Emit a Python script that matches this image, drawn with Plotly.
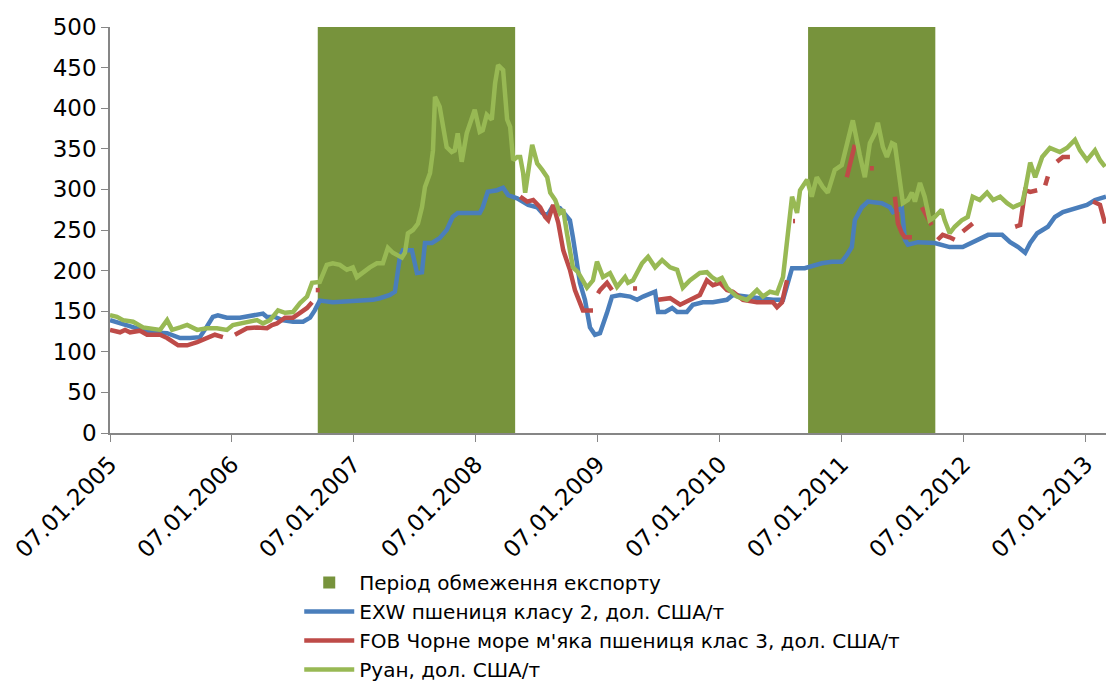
import pandas as pd
import plotly.graph_objects as go

# Періоди обмеження експорту (квоти)
ban_start = ["2006-09-21", "2010-09-28"]
ban_end = ["2008-05-04", "2011-10-14"]
ban_level = [500, 500]

# EXW пшениця класу 2, дол. США/т
exw_dates = [
    "2005-01-07", "2005-02-06", "2005-03-17", "2005-05-07", "2005-06-27", "2005-08-05", "2005-09-04", "2005-10-03",
    "2005-10-24", "2005-11-11", "2005-11-26", "2005-12-23",
    "2006-01-31", "2006-03-11", "2006-04-10", "2006-04-22", "2006-05-16", "2006-06-06", "2006-07-09", "2006-08-08",
    "2006-08-29", "2006-09-12", "2006-09-27", "2006-11-05",
    "2007-01-25", "2007-03-05", "2007-03-26", "2007-04-25", "2007-05-10", "2007-05-25", "2007-06-03", "2007-06-30",
    "2007-07-15", "2007-07-30", "2007-08-08", "2007-08-29", "2007-09-21", "2007-10-12", "2007-10-30", "2007-11-14",
    "2008-01-19", "2008-01-28", "2008-02-12", "2008-03-11", "2008-03-29", "2008-04-13", "2008-05-10", "2008-05-25",
    "2008-06-12", "2008-07-09", "2008-07-24", "2008-08-08", "2008-08-23", "2008-09-15", "2008-10-15", "2008-10-24",
    "2008-11-05", "2008-11-14", "2008-11-29", "2008-12-14", "2008-12-29",
    "2009-01-13", "2009-02-03", "2009-02-18", "2009-03-14", "2009-04-13", "2009-05-04", "2009-05-22", "2009-06-27",
    "2009-07-06", "2009-07-27", "2009-08-17", "2009-09-01", "2009-09-30", "2009-10-18", "2009-11-17", "2009-12-17",
    "2010-01-28", "2010-02-15", "2010-03-29", "2010-05-07", "2010-06-15", "2010-07-15", "2010-07-30", "2010-08-11",
    "2010-09-18", "2010-10-18", "2010-11-08", "2010-12-08",
    "2011-01-07", "2011-01-22", "2011-02-06", "2011-02-15", "2011-03-08", "2011-03-26", "2011-05-07", "2011-05-31",
    "2011-06-09", "2011-07-06", "2011-07-15", "2011-07-24", "2011-08-23", "2011-10-12", "2011-11-26",
    "2012-01-04", "2012-01-25", "2012-02-24", "2012-03-20", "2012-05-01", "2012-05-25", "2012-06-18", "2012-07-09",
    "2012-07-24", "2012-08-14", "2012-09-15", "2012-10-06", "2012-10-30", "2012-12-11",
    "2013-01-10", "2013-02-03", "2013-03-08",
]
exw_price = [
    139, 135, 130, 124, 123, 117, 117, 118, 131, 143, 145, 142,
    142, 145, 147, 143, 143, 139, 137, 137, 142, 151, 163, 161,
    163, 164, 166, 170, 174, 217, 225, 225, 197, 198, 234, 234, 240, 250, 266, 271,
    271, 278, 297, 299, 302, 293, 289, 285, 281, 278, 271, 268, 278, 277, 262, 241, 209, 185, 164, 130, 121,
    123, 148, 168, 170, 168, 164, 168, 174, 149, 149, 154, 149, 149, 158, 161, 161,
    164, 170, 168, 166, 164, 164, 188, 203, 203, 207, 209, 211,
    211, 219, 229, 262, 278, 285, 283, 278, 272, 277, 238, 232, 235, 234, 229,
    229, 233, 238, 244, 244, 235, 229, 222, 234, 246, 254, 266, 272, 277,
    281, 287, 291,
]

# FOB Чорне море м'яка пшениця клас 3, дол. США/т (None = немає котирувань)
fob_dates = [
    "2005-01-07", "2005-02-06", "2005-02-21", "2005-03-08", "2005-04-07", "2005-04-28", "2005-06-06", "2005-06-27",
    "2005-07-30", "2005-08-26", "2005-09-25", "2005-10-24", "2005-11-17", "2005-12-11", "2005-12-28",
    "2006-01-16", "2006-02-21", "2006-03-23", "2006-04-22", "2006-05-07", "2006-05-22", "2006-06-15", "2006-07-09",
    "2006-07-30", "2006-08-20", "2006-09-04", "2006-09-10", "2006-09-15", "2006-09-27", "2006-10-05",
    "2008-05-19", "2008-06-09", "2008-06-27", "2008-07-18", "2008-08-02", "2008-08-11", "2008-08-26", "2008-09-10",
    "2008-09-25", "2008-10-15", "2008-10-30", "2008-11-14", "2008-11-23", "2008-12-23", "2008-12-30",
    "2009-01-07", "2009-01-13", "2009-02-03", "2009-02-18", "2009-03-01", "2009-04-22", "2009-05-04", "2009-05-15",
    "2009-07-06", "2009-08-11", "2009-09-10", "2009-10-09", "2009-11-08", "2009-11-29", "2009-12-17",
    "2010-01-07", "2010-01-28", "2010-02-15", "2010-03-17", "2010-04-28", "2010-05-28", "2010-06-15", "2010-06-27",
    "2010-07-12", "2010-07-27", "2010-08-05", "2010-08-14", "2010-08-20", "2010-09-01",
    "2011-01-22", "2011-02-06", "2011-02-15", "2011-03-01", "2011-04-01", "2011-04-13", "2011-05-01",
    "2011-06-15", "2011-06-24", "2011-07-06", "2011-07-15", "2011-08-05", "2011-08-20",
    "2011-09-04", "2011-09-21", "2011-10-03", "2011-10-12",
    "2011-10-21", "2011-11-05", "2011-11-26", "2011-12-11", "2011-12-20",
    "2012-01-04", "2012-02-03", "2012-02-15",
    "2012-06-09", "2012-06-24", "2012-07-09", "2012-07-24", "2012-08-14", "2012-08-25",
    "2012-09-07", "2012-09-15", "2012-09-30",
    "2012-10-12", "2012-10-30", "2012-11-20", "2012-12-15",
    "2013-01-28", "2013-02-18", "2013-03-05",
]
fob_price = [
    127, 124, 127, 124, 126, 121, 121, 117, 108, 108, 112, 117, 121, 118, None,
    121, 129, 130, 129, 133, 135, 142, 142, 148, 154, 161, None, 176, 176, None,
    291, 285, 287, 278, 266, 262, 281, 259, 225, 201, 176, 160, 151, 151, None,
    172, 176, 185, 176, None, 178, 178, None,
    164, 166, 158, 164, 170, 188, 182,
    185, 176, 174, 164, 161, 161, 161, 155, 161, 188, None, 261, 261, None,
    315, 340, 355, None, 326, 326, None,
    291, 258, 246, 241, 241, None,
    278, 265, 256, None,
    238, 244, 241, 238, None,
    248, 258, None,
    254, 256, 299, 297, 299, None,
    305, 316, None,
    334, 340, 340, None,
    285, 281, 258,
]

# Руан, дол. США/т
rouen_dates = [
    "2005-01-07", "2005-01-28", "2005-02-15", "2005-03-17", "2005-04-16", "2005-05-16", "2005-06-06", "2005-06-27",
    "2005-07-12", "2005-08-05", "2005-08-26", "2005-09-25", "2005-10-24", "2005-11-23", "2005-12-23",
    "2006-01-10", "2006-01-31", "2006-02-21", "2006-03-23", "2006-04-10", "2006-05-01", "2006-05-25", "2006-06-15",
    "2006-07-09", "2006-07-30", "2006-08-20", "2006-09-04", "2006-09-27", "2006-10-18", "2006-11-05", "2006-11-26",
    "2006-12-17",
    "2007-01-04", "2007-01-16", "2007-02-03", "2007-02-24", "2007-03-17", "2007-04-04", "2007-04-19", "2007-05-04",
    "2007-05-31", "2007-06-09", "2007-06-18", "2007-07-03", "2007-07-18", "2007-07-30", "2007-08-08", "2007-08-23",
    "2007-09-01", "2007-09-07", "2007-09-21", "2007-09-30", "2007-10-12", "2007-10-27", "2007-11-05", "2007-11-14",
    "2007-11-26", "2007-12-11",
    "2008-01-04", "2008-01-19", "2008-01-28", "2008-02-09", "2008-02-24", "2008-03-05", "2008-03-14", "2008-03-29",
    "2008-04-10", "2008-04-19", "2008-04-28", "2008-05-10", "2008-05-19", "2008-05-28", "2008-06-03", "2008-06-24",
    "2008-07-09", "2008-07-24", "2008-08-08", "2008-08-17", "2008-09-01", "2008-09-15", "2008-09-25", "2008-10-06",
    "2008-10-24", "2008-11-08", "2008-12-05", "2008-12-23",
    "2009-01-04", "2009-01-22", "2009-02-12", "2009-03-05", "2009-03-29", "2009-04-07", "2009-04-22", "2009-05-19",
    "2009-06-06", "2009-06-27", "2009-07-18", "2009-08-11", "2009-09-01", "2009-09-18", "2009-10-09", "2009-11-08",
    "2009-11-29", "2009-12-14", "2009-12-29",
    "2010-01-13", "2010-01-28", "2010-02-27", "2010-03-29", "2010-04-28", "2010-05-16", "2010-06-06", "2010-06-27",
    "2010-07-15", "2010-07-30", "2010-08-11", "2010-08-26", "2010-09-04", "2010-09-25", "2010-10-09", "2010-10-24",
    "2010-11-11", "2010-11-26", "2010-12-17",
    "2011-01-07", "2011-01-22", "2011-02-09", "2011-03-02", "2011-03-17", "2011-04-01", "2011-04-16", "2011-04-25",
    "2011-05-10", "2011-05-22", "2011-06-06", "2011-06-15", "2011-06-30", "2011-07-09", "2011-07-24", "2011-08-05",
    "2011-08-14", "2011-08-29", "2011-09-12", "2011-09-27", "2011-10-12", "2011-11-02", "2011-11-11", "2011-11-26",
    "2011-12-11",
    "2012-01-01", "2012-01-19", "2012-02-03", "2012-02-24", "2012-03-17", "2012-04-04", "2012-04-25", "2012-05-16",
    "2012-06-03", "2012-06-30", "2012-07-09", "2012-07-24", "2012-08-08", "2012-08-29", "2012-09-21", "2012-10-21",
    "2012-11-11", "2012-12-05", "2012-12-20",
    "2013-01-10", "2013-02-03", "2013-02-18", "2013-03-05",
]
rouen_price = [
    145, 143, 139, 137, 130, 129, 127, 139, 127, 130, 133, 127, 129, 129, 127,
    133, 135, 137, 139, 135, 139, 151, 148, 149, 160, 168, 185, 186, 207, 209, 207, 201,
    204, 192, 198, 204, 209, 209, 228, 222, 216, 222, 246, 250, 258, 278, 303, 320, 348, 414, 402, 377, 352, 346,
    348, 369, 334, 369,
    398, 371, 373, 392, 386, 431, 453, 447, 386, 377, 336, 340, 340, 320, 296, 355, 332, 324, 315, 296, 287, 271,
    275, 246, 204, 198, 179, 188,
    211, 192, 197, 180, 192, 185, 188, 209, 217, 204, 213, 204, 201, 179, 188, 197, 198, 192, 188,
    191, 179, 168, 164, 176, 168, 174, 172, 192, 254, 291, 271, 299, 312, 291, 315, 303, 296, 324,
    330, 357, 385, 342, 315, 357, 369, 382, 352, 340, 357, 355, 303, 283, 287, 296, 285, 308, 291, 262, 266, 275,
    262, 246, 254,
    262, 266, 291, 287, 296, 287, 291, 283, 278, 283, 299, 333, 315, 340, 351, 346, 351, 361, 348,
    336, 348, 336, 328,
]

year_ticks = ["2005-01-07", "2006-01-07", "2007-01-07", "2008-01-07", "2009-01-07",
              "2010-01-07", "2011-01-07", "2012-01-07", "2013-01-07"]

# кольори
col_ban = "#77933C"
col_exw = "#4A7EBB"
col_fob = "#BE4B48"
col_rouen = "#98B954"
col_axis = "#868686"

# центр і ширина стовпчиків періодів (у мс)
s = pd.to_datetime(ban_start)
e = pd.to_datetime(ban_end)
ban_mid = s + (e - s) / 2
ban_width = [(b - a).total_seconds() * 1000 for a, b in zip(s, e)]

fig = go.Figure()

fig.add_trace(go.Bar(
    x=ban_mid, y=ban_level, width=ban_width,
    marker=dict(color=col_ban, line=dict(width=0)),
    name="Період обмеження експорту",
))

fig.add_trace(go.Scatter(
    x=exw_dates, y=exw_price, mode="lines",
    line=dict(color=col_exw, width=4.5),
    name="EXW пшениця класу 2, дол. США/т",
))

fig.add_trace(go.Scatter(
    x=fob_dates, y=fob_price, mode="lines", connectgaps=False,
    line=dict(color=col_fob, width=4.5),
    name="FOB Чорне море м'яка пшениця клас 3, дол. США/т",
))

fig.add_trace(go.Scatter(
    x=rouen_dates, y=rouen_price, mode="lines",
    line=dict(color=col_rouen, width=4.5),
    name="Руан, дол. США/т",
))

fig.update_layout(
    width=1106, height=689,
    font=dict(family="DejaVu Sans", size=23, color="black"),
    plot_bgcolor="white", paper_bgcolor="white",
    margin=dict(l=110, r=0, t=27, b=256),
    showlegend=True,
    legend=dict(
        x=0.19, y=-0.321, xanchor="left", yanchor="top",
        font=dict(size=20), bgcolor="rgba(0,0,0,0)",
        itemwidth=50,
    ),
    xaxis=dict(
        type="date",
        range=["2005-01-07", "2013-03-08"],
        tickvals=year_ticks,
        tickformat="%d.%m.%Y",
        tickangle=-45,
        ticks="outside", ticklen=7, tickcolor=col_axis,
        showline=True, linecolor=col_axis, linewidth=1.5,
        showgrid=False, zeroline=False, automargin=False,
    ),
    yaxis=dict(
        range=[0, 500], dtick=50,
        ticks="outside", ticklen=7, tickcolor=col_axis,
        showline=True, linecolor=col_axis, linewidth=1.5,
        showgrid=False, zeroline=False, automargin=False,
    ),
)

# прибираємо стандартний відступ сторінки, щоб графік займав усе вікно
fig.write_html("out.html", config={"displayModeBar": False},
               post_script="document.body.style.margin='0px';")
